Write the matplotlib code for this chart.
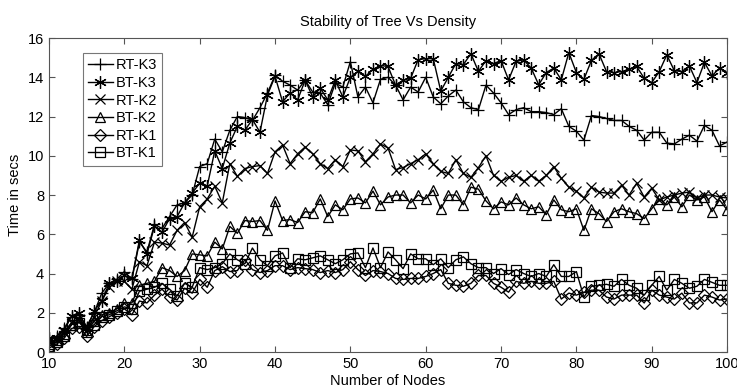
import matplotlib
matplotlib.use("Agg")
import matplotlib.pyplot as plt
import numpy as np

plt.rcParams['font.family'] = ['Liberation Sans', 'DejaVu Sans']

nodes = list(range(10, 101))

rt_k3 = [0.6, 0.8, 1.2, 1.8, 1.9, 1.3, 2.0, 3.0, 3.5, 3.7, 4.1, 3.7, 5.6, 5.1, 6.5, 6.3, 6.9, 7.5, 7.6, 8.0,
         9.45, 9.6, 10.85, 10.2, 11.3, 12.0, 11.95, 11.8, 12.45, 13.2, 14.1,
         13.8, 13.6, 13.35, 13.85, 13.25, 13.2, 12.6, 13.7, 13.5, 14.8, 13.0, 13.5, 12.7, 13.9,
         14.0, 13.6, 12.85, 13.5, 13.25, 14.0, 13.0, 12.65, 13.05, 13.35, 12.75, 12.45, 12.35, 13.6, 13.2, 12.7,
         12.1, 12.35, 12.45, 12.25, 12.25, 12.2, 12.1, 12.4, 11.5, 11.25, 10.8, 12.05, 12.0, 11.9, 11.8,
         11.8, 11.5, 11.3, 10.8, 11.2, 11.2, 10.65, 10.6, 10.85, 11.05, 10.75, 11.55, 11.3, 10.5, 10.7]

bt_k3 = [0.7, 0.7, 1.1, 1.85, 2.0, 1.2, 2.1, 2.6, 3.5, 3.6, 3.9, 3.75, 5.7, 5.0, 6.4, 6.1, 6.8, 6.9, 7.6, 8.1,
         8.6, 8.45, 10.25, 9.35, 10.65, 11.5, 11.3, 11.85, 11.2, 13.1, 14.05,
         12.75, 13.2, 12.85, 13.85, 13.0, 13.45, 12.85, 13.85, 13.0, 14.0, 14.3, 14.05, 14.4, 14.6,
         14.55, 13.6, 13.85, 13.95, 14.9, 14.95, 14.95, 13.3, 14.0, 14.7, 14.65, 15.2, 14.3, 14.85, 14.7, 14.85,
         13.87, 14.81, 14.89, 14.47, 13.62, 14.24, 14.47, 13.87, 15.26, 14.24, 13.9, 14.86, 15.2, 14.29, 14.24,
         14.29, 14.41, 14.55, 13.95, 13.73, 14.29, 15.14, 14.34, 14.29, 14.58, 13.73, 14.76, 14.07, 14.47, 14.24]

rt_k2 = [0.5, 0.6, 1.0, 1.5, 1.7, 1.1, 1.8, 2.6, 3.3, 3.6, 3.6, 3.2, 4.6, 4.4, 5.6, 5.55, 5.45, 6.2, 6.6, 5.85,
         7.4, 7.8, 8.45, 7.6, 9.6, 8.95, 9.35, 9.45, 9.5, 9.1, 10.2,
         10.55, 9.6, 10.1, 10.45, 10.1, 9.6, 9.35, 9.8, 9.45, 10.3, 10.25, 9.7, 10.1, 10.6,
         10.4, 9.3, 9.4, 9.6, 9.8, 10.1, 9.6, 9.2, 9.1, 9.8, 9.1, 8.9, 9.4, 10.0, 9.0, 8.7,
         8.9, 9.0, 8.7, 9.0, 8.7, 9.0, 9.45, 8.85, 8.4, 8.2, 7.85, 8.4, 8.15, 8.1, 8.1,
         8.5, 8.0, 8.6, 7.9, 8.35, 7.75, 7.9, 8.0, 8.1, 8.15, 7.85, 8.0, 8.0, 7.9, 7.85]

bt_k2 = [0.4, 0.6, 0.9, 1.4, 1.6, 1.0, 1.6, 1.9, 2.0, 2.2, 2.5, 2.5, 3.4, 3.5, 3.6, 4.3, 4.15, 3.85, 4.15, 5.0,
         4.95, 4.9, 5.6, 5.25, 6.4, 6.05, 6.7, 6.65, 6.7, 6.2, 7.7,
         6.7, 6.75, 6.6, 7.15, 7.1, 7.8, 6.9, 7.5, 7.25, 7.8, 7.85, 7.6, 8.2, 7.5,
         7.9, 8.0, 8.0, 7.6, 8.0, 7.8, 8.25, 7.3, 8.0, 8.0, 7.5, 8.4, 8.3, 7.7, 7.3, 7.65,
         7.5, 7.85, 7.5, 7.3, 7.4, 7.0, 7.75, 7.25, 7.15, 7.3, 6.2, 7.3, 7.05, 6.65, 7.15,
         7.3, 7.15, 7.05, 6.8, 7.3, 7.8, 7.5, 7.9, 7.4, 8.0, 7.75, 7.9, 7.15, 7.75, 7.25]

rt_k1 = [0.2, 0.4, 0.7, 1.2, 1.3, 0.8, 1.3, 1.6, 1.8, 2.0, 2.2, 1.9, 2.6, 2.5, 2.9, 3.2, 2.8, 2.65, 3.25, 3.0,
         3.7, 3.3, 4.15, 4.35, 4.1, 4.15, 4.7, 4.2, 4.05, 4.15, 4.4,
         4.4, 4.2, 4.3, 4.25, 4.2, 4.05, 4.15, 4.05, 4.2, 4.6, 4.2, 3.9, 4.15, 4.1,
         4.0, 3.75, 3.7, 3.75, 3.75, 3.85, 4.0, 4.2, 3.5, 3.4, 3.35, 3.5, 3.9, 3.9, 3.5, 3.3,
         3.05, 3.6, 3.5, 3.6, 3.5, 3.5, 3.6, 2.7, 3.0, 2.9, 3.05, 3.15, 3.15, 2.8, 2.7,
         2.9, 2.9, 2.9, 2.5, 3.15, 2.9, 2.8, 2.7, 3.0, 2.5, 2.5, 2.9, 2.8, 2.65, 2.7]

bt_k1 = [0.3, 0.5, 0.8, 1.4, 1.5, 1.1, 1.4, 1.8, 1.9, 2.1, 2.3, 2.2, 3.1, 3.2, 3.3, 3.5, 3.2, 2.85, 3.5, 3.3,
         4.3, 4.2, 4.3, 4.5, 5.0, 4.7, 4.5, 5.3, 4.7, 4.4, 4.9,
         5.05, 4.3, 4.75, 4.7, 4.8, 4.9, 4.7, 4.5, 4.7, 5.0, 5.05, 4.3, 5.3, 4.3,
         5.1, 4.7, 4.25, 5.0, 4.75, 4.75, 4.45, 4.75, 4.3, 4.7, 4.85, 4.5, 4.3, 4.3, 4.0, 4.25,
         3.95, 4.2, 4.0, 3.85, 4.0, 3.85, 4.45, 3.85, 3.85, 4.1, 2.8, 3.35, 3.4, 3.45, 3.35,
         3.7, 3.4, 3.25, 2.9, 3.4, 3.85, 3.15, 3.7, 3.5, 3.25, 3.35, 3.7, 3.55, 3.4, 3.4]

labels = ["RT-K3", "BT-K3", "RT-K2", "BT-K2", "RT-K1", "BT-K1"]
series = [rt_k3, bt_k3, rt_k2, bt_k2, rt_k1, bt_k1]
# matlab-ish markers: plus, asterisk, x, triangle, diamond, square
markers = ["+", (6, 2, 0), "x", "^", "D", "s"]
msizes = [9, 9, 7, 7, 6, 7]

fig = plt.figure(figsize=(7.37, 3.91), dpi=100)
ax = fig.add_axes([0.0665, 0.0997, 0.92, 0.803])

for lab, ys, mk, ms in zip(labels, series, markers, msizes):
    ax.plot(nodes, ys, color="black", linewidth=1.0, marker=mk, markersize=ms,
            markerfacecolor="none", markeredgecolor="black", markeredgewidth=0.9, label=lab)

ax.set_xlim(10, 100)
ax.set_ylim(0, 16)
ax.set_xticks(np.arange(10, 101, 10))
ax.set_yticks(np.arange(0, 17, 2))
ax.tick_params(direction="in", top=True, right=True, labelsize=10.5, length=4, color="#555555")
for s in ax.spines.values():
    s.set_color("#555555")
    s.set_linewidth(0.8)

ax.set_title("Stability of Tree Vs Density", fontsize=10.5, pad=9)
ax.set_xlabel("Number of Nodes", fontsize=10.5, labelpad=2)
ax.set_ylabel("Time in secs", fontsize=10.5, labelpad=4)

leg = ax.legend(loc="upper left", bbox_to_anchor=(0.05, 0.952), fontsize=10.5, frameon=True,
                fancybox=False, edgecolor="#555555", handlelength=1.7, borderpad=0.35,
                labelspacing=0.25, handletextpad=0.2, borderaxespad=0)
leg.get_frame().set_linewidth(0.8)

fig.savefig("out.png", dpi=100)
